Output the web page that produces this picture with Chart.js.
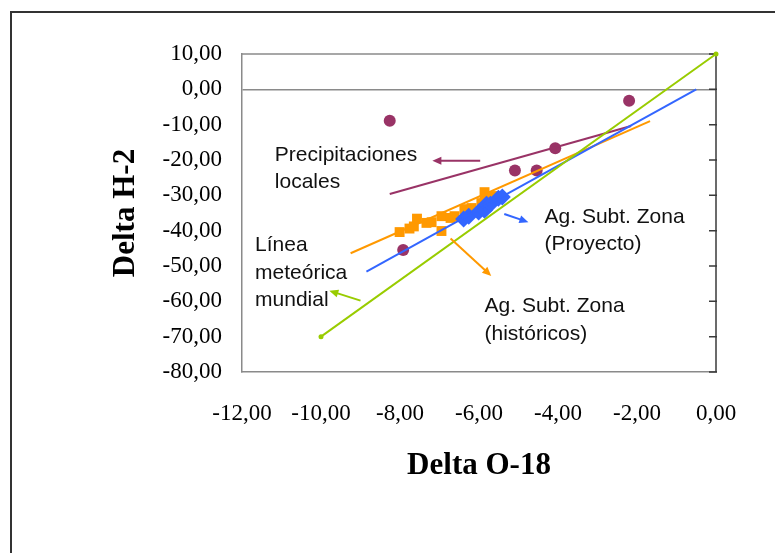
<!DOCTYPE html>
<html>
<head>
<meta charset="utf-8">
<script src="https://cdn.jsdelivr.net/npm/chart.js@4"></script>
<style>
  html, body { margin: 0; padding: 0; background: #fff; }
  canvas { display: block; }
</style>
</head>
<body>
<canvas id="c" width="775" height="553"></canvas>
<script>
// ---- data ----
const xTicks = [-12, -10, -8, -6, -4, -2, 0];
const yTicks = [10, 0, -10, -20, -30, -40, -50, -60, -70, -80];

// Precipitaciones locales
const precipX = [-8.26, -2.2, -4.07, -5.09, -4.54, -7.92];
const precipY = [-8.9, -3.2, -16.7, -23.0, -23.0, -45.5];

// Ag. Subt. Zona (históricos)
const histX = [-8.01, -7.76, -7.65, -7.57, -7.33, -7.20, -6.95, -6.95, -6.72, -6.62, -6.37, -6.19, -5.94, -5.86, -5.86, -5.66];
const histY = [-40.4, -39.4, -38.8, -36.6, -37.8, -37.6, -35.9, -40.1, -36.4, -35.9, -33.9, -33.6, -32.2, -29.1, -31.6, -30.2];

// Ag. Subt. Zona (Proyecto)
const proyX = [-6.39, -6.26, -6.01, -5.86, -5.81, -5.71, -5.51, -5.41];
const proyY = [-36.7, -35.9, -34.7, -34.2, -32.5, -32.5, -30.8, -30.5];

// Trend lines (end points)
const precipTrendX = [-8.26, -2.15];
const precipTrendY = [-29.6, -10.4];
const histTrendX = [-9.25, -1.67];
const histTrendY = [-46.4, -9.0];
const proyTrendX = [-8.85, -0.5];
const proyTrendY = [-51.6, 0.0];
// Línea meteórica mundial
const gmwlX = [-10, 0];
const gmwlY = [-70, 10];

// Annotations (data coordinates)
const labelTexts = [
  ['Precipitaciones', 'locales'],
  ['Línea', 'meteórica', 'mundial'],
  ['Ag. Subt. Zona', '(Proyecto)'],
  ['Ag. Subt. Zona', '(históricos)']
];
const labelX = [-11.17, -11.67, -4.34, -5.86];
const labelY = [-18.6, -44.1, -36.05, -61.5];

const arrowX1 = [-5.97, -9.0, -5.36, -6.72];
const arrowY1 = [-20.2, -59.8, -35.3, -42.2];
const arrowX2 = [-7.18, -9.79, -4.75, -5.69];
const arrowY2 = [-20.2, -57.0, -37.6, -52.8];

const PURPLE = '#993366', ORANGE = '#FF9900', BLUE = '#3366FF', GREEN = '#99CC00';
const arrowColors = [PURPLE, GREEN, BLUE, ORANGE];

const pts = (xs, ys) => xs.map((x, i) => ({ x: x, y: ys[i] }));
const fmt = v => Number(v).toFixed(2).replace('.', ',');

const frame = {
  id: 'frame',
  beforeDatasetsDraw(chart) {
    const { ctx, chartArea: a, scales } = chart;
    ctx.save();
    ctx.strokeStyle = '#8a8a8a';
    ctx.lineWidth = 1.5;
    ctx.beginPath();
    ctx.moveTo(a.left, a.top);
    ctx.lineTo(a.right, a.top);
    ctx.stroke();
    ctx.strokeStyle = '#3a3a3a';
    ctx.lineWidth = 1.5;
    ctx.beginPath();
    ctx.moveTo(a.right, a.top);
    ctx.lineTo(a.right, a.bottom);
    ctx.stroke();
    ctx.beginPath();
    yTicks.forEach(v => {
      const py = scales.y.getPixelForValue(v);
      ctx.moveTo(a.right - 7, py);
      ctx.lineTo(a.right + 1, py);
    });
    ctx.stroke();
    ctx.restore();
  },
  afterDraw(chart) {
    const { ctx, scales } = chart;
    ctx.save();
    ctx.strokeStyle = '#333';
    ctx.lineWidth = 2;
    ctx.beginPath();
    ctx.moveTo(11, 560);
    ctx.lineTo(11, 12);
    ctx.lineTo(780, 12);
    ctx.stroke();
    arrowX1.forEach((x1, i) => {
      const sx = scales.x.getPixelForValue(x1), sy = scales.y.getPixelForValue(arrowY1[i]);
      const ex = scales.x.getPixelForValue(arrowX2[i]), ey = scales.y.getPixelForValue(arrowY2[i]);
      const ang = Math.atan2(ey - sy, ex - sx);
      const L = 9, W = 4;
      ctx.strokeStyle = arrowColors[i];
      ctx.fillStyle = arrowColors[i];
      ctx.lineWidth = 2;
      ctx.beginPath();
      ctx.moveTo(sx, sy);
      ctx.lineTo(ex - Math.cos(ang) * L * 0.8, ey - Math.sin(ang) * L * 0.8);
      ctx.stroke();
      ctx.beginPath();
      ctx.moveTo(ex, ey);
      ctx.lineTo(ex - Math.cos(ang) * L - Math.sin(ang) * W, ey - Math.sin(ang) * L + Math.cos(ang) * W);
      ctx.lineTo(ex - Math.cos(ang) * L + Math.sin(ang) * W, ey - Math.sin(ang) * L - Math.cos(ang) * W);
      ctx.closePath();
      ctx.fill();
    });
    ctx.fillStyle = '#111';
    ctx.font = '21px "Liberation Sans", Arial, sans-serif';
    ctx.textBaseline = 'middle';
    ctx.textAlign = 'left';
    labelTexts.forEach((lines, i) => {
      const lx = scales.x.getPixelForValue(labelX[i]);
      const ly = scales.y.getPixelForValue(labelY[i]);
      lines.forEach((t, j) => ctx.fillText(t, lx, ly + j * 27.6));
    });
    ctx.restore();
  }
};

const tickFont = { family: '"Liberation Serif", "Times New Roman", serif', size: 23 };
const titleFont = { family: '"Liberation Serif", "Times New Roman", serif', size: 31, weight: 'bold' };

new Chart(document.getElementById('c'), {
  type: 'scatter',
  data: {
    datasets: [
      { data: pts(gmwlX, gmwlY), showLine: true, borderColor: GREEN, borderWidth: 2, pointRadius: 2.5, pointBackgroundColor: GREEN, pointBorderWidth: 0, clip: false },
      { data: pts(proyTrendX, proyTrendY), showLine: true, borderColor: BLUE, borderWidth: 2, pointRadius: 0 },
      { data: pts(histTrendX, histTrendY), showLine: true, borderColor: ORANGE, borderWidth: 2, pointRadius: 0 },
      { data: pts(precipTrendX, precipTrendY), showLine: true, borderColor: PURPLE, borderWidth: 2, pointRadius: 0 },
      { data: pts(proyX, proyY), pointStyle: 'rectRot', pointRadius: 8.5, backgroundColor: BLUE, borderColor: BLUE, borderWidth: 0 },
      { data: pts(histX, histY), pointStyle: 'rect', pointRadius: 7, backgroundColor: ORANGE, borderColor: ORANGE, borderWidth: 0 },
      { data: pts(precipX, precipY), pointStyle: 'circle', pointRadius: 6, backgroundColor: PURPLE, borderColor: PURPLE, borderWidth: 0 }
    ]
  },
  options: {
    responsive: false,
    animation: false,
    events: [],
    layout: { padding: { left: 0, top: 54, right: 59, bottom: 0 } },
    plugins: { legend: { display: false }, tooltip: { enabled: false } },
    scales: {
      x: {
        type: 'linear', min: -12, max: 0,
        afterBuildTicks: s => { s.ticks = xTicks.map(v => ({ value: v })); },
        ticks: { callback: v => fmt(v), font: tickFont, color: '#000', padding: 28, maxRotation: 0 },
        grid: { display: false, drawTicks: false },
        border: { display: true, color: '#8a8a8a', width: 1.5 },
        title: { display: true, text: 'Delta O-18', font: titleFont, color: '#000', padding: { top: 0, bottom: 68 } },
        afterFit: s => { s.height = 181; }
      },
      y: {
        type: 'linear', min: -80, max: 10,
        afterBuildTicks: s => { s.ticks = yTicks.slice().reverse().map(v => ({ value: v })); },
        ticks: { callback: v => fmt(v), font: tickFont, color: '#000', padding: 20 },
        grid: { color: c => (c.tick && c.tick.value === 0 ? '#8a8a8a' : 'rgba(0,0,0,0)'), lineWidth: 1.5, drawTicks: false },
        border: { display: true, color: '#8a8a8a', width: 1.5 },
        title: { display: true, text: 'Delta H-2', font: titleFont, color: '#000', padding: { top: 107, bottom: 0 } },
        afterFit: s => { s.width = 242; }
      }
    }
  },
  plugins: [frame]
});
</script>
</body>
</html>
